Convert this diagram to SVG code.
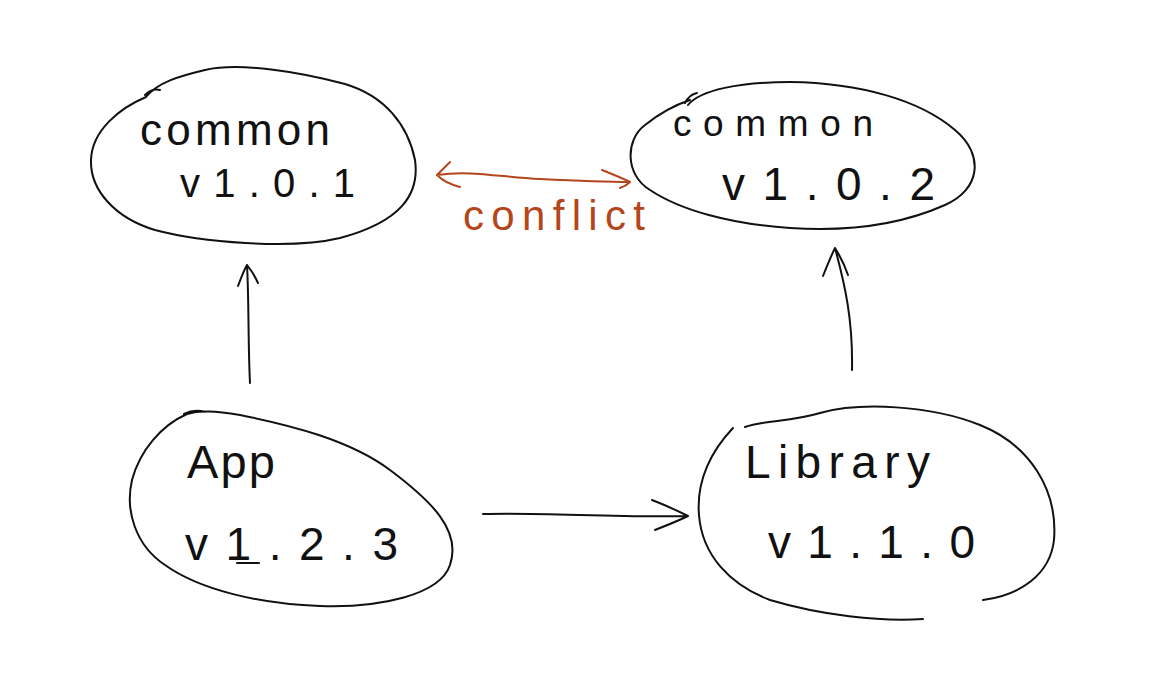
<svg xmlns="http://www.w3.org/2000/svg" width="1155" height="693" viewBox="0 0 1155 693">
<style>
.outline{fill:none;stroke:#111;stroke-width:2;stroke-linecap:round;stroke-linejoin:round}
.lbl{font-family:"Liberation Sans",Arial,sans-serif;fill:#111}
.conn{fill:none;stroke:#111;stroke-width:2;stroke-linecap:round;stroke-linejoin:round}
.conf{fill:none;stroke:#b5461c;stroke-width:2;stroke-linecap:round;stroke-linejoin:round}
.conft{font-family:"Liberation Sans",Arial,sans-serif;fill:#b5461c}
</style>
<rect width="1155" height="693" fill="#fff"/>
<g id="common-101">
<path class="outline" d="M146,97 C158,82 180,76 205,70 C240,62 300,72 345,84 C385,96 408,125 415,160 C420,195 400,222 340,238 C290,250 200,242 155,230 C115,218 90,190 91,160 C92,130 120,108 146,97 M145,95 C150,90 156,89 160,90"/>
<text class="lbl" x="140" y="145" font-size="44" textLength="190" lengthAdjust="spacing">common</text>
<text class="lbl" x="180" y="197" font-size="40" textLength="175" lengthAdjust="spacing">v1.0.1</text>
</g>
<g id="common-102">
<path class="outline" d="M688,105 C700,90 740,82 790,82 C860,83 920,100 955,130 C985,155 980,190 945,205 C900,225 850,232 790,228 C730,224 680,210 650,190 C625,175 625,140 645,125 C660,113 675,105 690,100 M685,103 C688,97 692,94 697,93"/>
<text class="lbl" x="673" y="136" font-size="37" textLength="200" lengthAdjust="spacing">common</text>
<text class="lbl" x="722" y="200" font-size="46" textLength="213" lengthAdjust="spacing">v1.0.2</text>
</g>
<g id="app">
<path class="outline" d="M187,414 C200,410 215,411 240,415 C290,425 350,440 390,470 C430,500 462,530 450,565 C440,595 380,608 320,606 C260,604 200,590 165,565 C135,545 125,510 132,480 C140,450 162,425 187,414 M184,414 C190,411 198,410 205,412"/>
<text class="lbl" x="187" y="478" font-size="47" textLength="88" lengthAdjust="spacing">App</text>
<text class="lbl" x="185" y="560" font-size="46" textLength="213" lengthAdjust="spacing">v1.2.3</text>
<path class="outline" d="M237,563 L259,563"/>
</g>
<g id="library">
<path class="outline" d="M745,427 C765,420 790,422 820,413 C860,402 930,405 980,425 C1030,445 1058,490 1054,540 C1050,575 1020,595 983,600 M733,428 C712,450 696,480 699,515 C702,555 730,585 770,600 C820,615 880,622 923,619"/>
<text class="lbl" x="745" y="478" font-size="46" textLength="185" lengthAdjust="spacing">Library</text>
<text class="lbl" x="768" y="558" font-size="46" textLength="207" lengthAdjust="spacing">v1.1.0</text>
</g>
<g id="connectors">
<path class="conn" d="M250,383 C248,345 249,300 247,265 M238,286 C241,278 244,270 247,265 C251,270 255,276 258,283"/>
<path class="conn" d="M852,370 C853,320 845,285 835,248 M823,276 C827,266 831,256 835,248 C840,256 845,266 848,275"/>
<path class="conn" d="M483,514 C540,512 620,518 688,516 M652,500 C665,505 678,511 688,516 C678,521 665,526 655,530"/>
<path class="conf" d="M437,175 C470,170 500,177 540,179 C580,181 610,182 630,182 M450,162 C445,167 440,172 437,175 C443,181 452,185 460,187 M602,170 C612,174 622,178 630,182 C627,185 623,187 620,188"/>
<text class="conft" x="463" y="230" font-size="42" textLength="182" lengthAdjust="spacing">conflict</text>
</g>
</svg>
